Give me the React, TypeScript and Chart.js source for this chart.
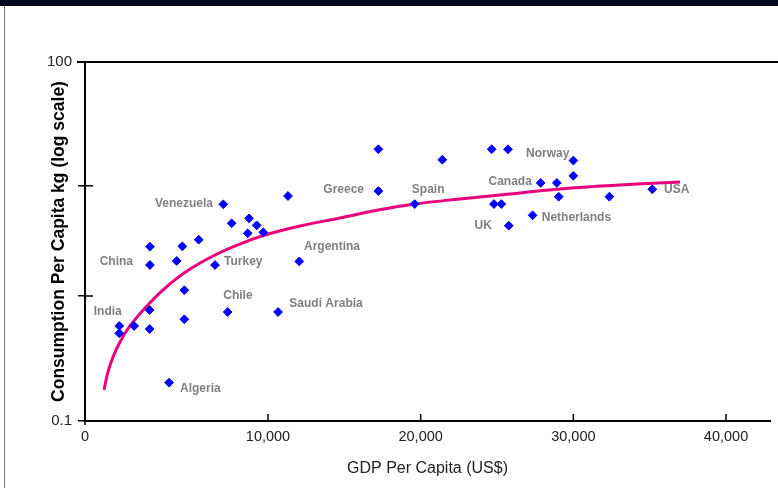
import React, { useEffect, useRef } from 'react';
import { Chart, registerables } from 'chart.js';

Chart.register(...registerables);

// GDP per capita (US$) of each country point
const gdpPerCapita = [
  2270, 2270, 4020, 4390, 5460, 6530, 7070, 7620, 8760, 8670, 9260, 9690, 11310, 12050,
  17230, 17230, 21420, 19610, 24650, 25720, 24800, 25280, 25770, 27330, 27860, 28920,
  30000, 30000, 29040, 32360, 35170,
  4520, 2250, 260, 260, 1230, 2250, 4520, 7360, 10660, 3520,
];
// consumption per capita, kg (log scale)
const consumptionKg = [
  2.80, 1.91, 2.08, 2.82, 3.24, 1.91, 6.78, 4.56, 5.06, 3.70, 4.37, 3.78, 8.07, 2.06,
  21.4, 8.95, 17.2, 6.82, 21.4, 21.4, 6.82, 6.82, 4.34, 5.39, 10.6, 10.6,
  16.9, 12.3, 7.95, 7.95, 9.28,
  1.13, 0.746, 0.535, 0.459, 0.535, 0.502, 0.615, 0.716, 0.716, 0.164,
];

// fitted trend curve
const trendGdp = [-740, -480, -150, 310, 960, 2010, 3260, 4700, 6530, 8170, 9800, 12100, 14720, 17210, 19630, 22580, 25200, 29130, 33060, 36990];
const trendKg = [0.141, 0.205, 0.280, 0.383, 0.535, 0.795, 1.18, 1.685, 2.353, 2.96, 3.57, 4.31, 5.10, 6.02, 6.83, 7.58, 8.24, 9.34, 10.15, 10.8];

// country labels
const labelTexts = ['Venezuela', 'China', 'Turkey', 'Argentina', 'Greece', 'Spain', 'Canada', 'UK', 'Norway', 'Netherlands', 'USA', 'India', 'Chile', 'Saudi Arabia', 'Algeria'];
const labelGdp = [6400, 1160, 7120, 12360, 16290, 19420, 27280, 24660, 29740, 27930, 35940, 420, 7070, 11400, 4240];
const labelKg = [6.90, 2.05, 2.05, 2.78, 9.28, 9.28, 10.8, 4.38, 19.7, 5.13, 9.28, 0.721, 1.0, 0.846, 0.146];
const labelAlign = ['right', 'right', 'left', 'left', 'right', 'left', 'right', 'right', 'right', 'left', 'left', 'right', 'left', 'left', 'left'];

// axes
const xMin = -1985;
const xMax = 42880;
const xTickValues = [xMin, 10000, 20000, 30000, 40000];
const xTickLabels = ['0', '10,000', '20,000', '30,000', '40,000'];
const yMin = 0.0736;
const yMax = 132.3;
const yTickValues = [yMin, 1, 10, yMax];
const yTickLabels = ['0.1', '', '', '100'];

const decorPlugin = {
  id: 'decor',
  afterDatasetsDraw(chart: any) {
    const { ctx, chartArea: a, scales } = chart;
    const x = scales.x;
    const y = scales.y;
    ctx.save();
    ctx.strokeStyle = '#000';
    ctx.lineWidth = 2;
    ctx.beginPath();
    ctx.moveTo(a.left - 8, a.top);
    ctx.lineTo(chart.width, a.top);
    ctx.stroke();
    ctx.lineWidth = 1.5;
    ctx.beginPath();
    for (const v of [1, 10]) {
      const py = y.getPixelForValue(v);
      ctx.moveTo(a.left, py);
      ctx.lineTo(a.left + 8, py);
    }
    for (const v of xTickValues.slice(1)) {
      const px = x.getPixelForValue(v);
      ctx.moveTo(px, a.bottom);
      ctx.lineTo(px, a.bottom - 7);
    }
    ctx.moveTo(a.left, a.bottom);
    ctx.lineTo(a.left, a.bottom + 4);
    ctx.stroke();

    ctx.font = 'bold 12px "Liberation Sans", Arial, sans-serif';
    ctx.fillStyle = '#808080';
    ctx.textBaseline = 'middle';
    labelTexts.forEach((t, i) => {
      ctx.textAlign = labelAlign[i] as CanvasTextAlign;
      ctx.fillText(t, x.getPixelForValue(labelGdp[i]), y.getPixelForValue(labelKg[i]));
    });
    ctx.restore();
  },
};

export default function App() {
  const ref = useRef<HTMLCanvasElement>(null);

  useEffect(() => {
    if (!ref.current) return;
    const chart = new Chart(ref.current, {
      type: 'scatter',
      data: {
        datasets: [
          {
            type: 'scatter',
            label: 'Countries',
            data: gdpPerCapita.map((g, i) => ({ x: g, y: consumptionKg[i] })),
            pointStyle: 'rectRot',
            pointRadius: 4.4,
            pointBackgroundColor: '#0000ff',
            pointBorderColor: '#0000ff',
            pointBorderWidth: 1,
            order: 0,
          },
          {
            type: 'line',
            label: 'Trend',
            data: trendGdp.map((g, i) => ({ x: g, y: trendKg[i] })),
            borderColor: '#e8007d',
            borderWidth: 3,
            pointRadius: 0,
            fill: false,
            tension: 0.4,
            order: 1,
          },
        ],
      } as any,
      options: {
        animation: false,
        responsive: false,
        layout: { padding: { top: 62, right: 8, bottom: 0, left: 0 } },
        plugins: { legend: { display: false }, tooltip: { enabled: false } },
        scales: {
          x: {
            type: 'linear',
            min: xMin,
            max: xMax,
            afterBuildTicks: (s: any) => {
              s.ticks = xTickValues.map((v) => ({ value: v }));
            },
            afterFit: (s: any) => {
              s.height = 67;
            },
            ticks: {
              autoSkip: false,
              maxRotation: 0,
              padding: 7,
              color: '#222',
              font: { family: '"Liberation Sans", Arial, sans-serif', size: 14.5 },
              callback: (_v: any, i: number) => xTickLabels[i],
            },
            grid: { display: true, drawOnChartArea: false, drawTicks: false },
            border: { display: true, color: '#000', width: 2 },
            title: {
              display: true,
              text: 'GDP Per Capita (US$)',
              color: '#222',
              font: { family: '"Liberation Sans", Arial, sans-serif', size: 16 },
              padding: { top: 0, bottom: 10 },
            },
          },
          y: {
            type: 'logarithmic',
            min: yMin,
            max: yMax,
            afterBuildTicks: (s: any) => {
              s.ticks = yTickValues.map((v) => ({ value: v }));
            },
            afterFit: (s: any) => {
              s.width = 85;
            },
            ticks: {
              autoSkip: false,
              padding: 6,
              color: '#222',
              font: { family: '"Liberation Sans", Arial, sans-serif', size: 15 },
              callback: (_v: any, i: number) => yTickLabels[i],
            },
            grid: { display: true, drawOnChartArea: false, drawTicks: true, tickLength: 7, color: '#000', lineWidth: 1.5 },
            border: { display: true, color: '#000', width: 2 },
            title: {
              display: true,
              text: 'Consumption Per Capita kg (log scale)',
              color: '#000',
              font: { family: '"Liberation Sans", Arial, sans-serif', size: 17.5, weight: 'bold' },
              padding: { top: 49, bottom: 0 },
            },
          },
        },
      } as any,
      plugins: [decorPlugin],
    });
    return () => chart.destroy();
  }, []);

  return (
    <div style={{ position: 'fixed', left: 0, top: 0, width: 778, height: 488, background: '#fff', overflow: 'hidden' }}>
      <div style={{ position: 'absolute', left: 0, top: 0, width: 778, height: 6, background: '#000820' }} />
      <div style={{ position: 'absolute', left: 4, top: 6, width: 1, height: 482, background: '#777' }} />
      <canvas ref={ref} width={778} height={488} style={{ position: 'absolute', left: 0, top: 0, width: 778, height: 488 }} />
    </div>
  );
}
